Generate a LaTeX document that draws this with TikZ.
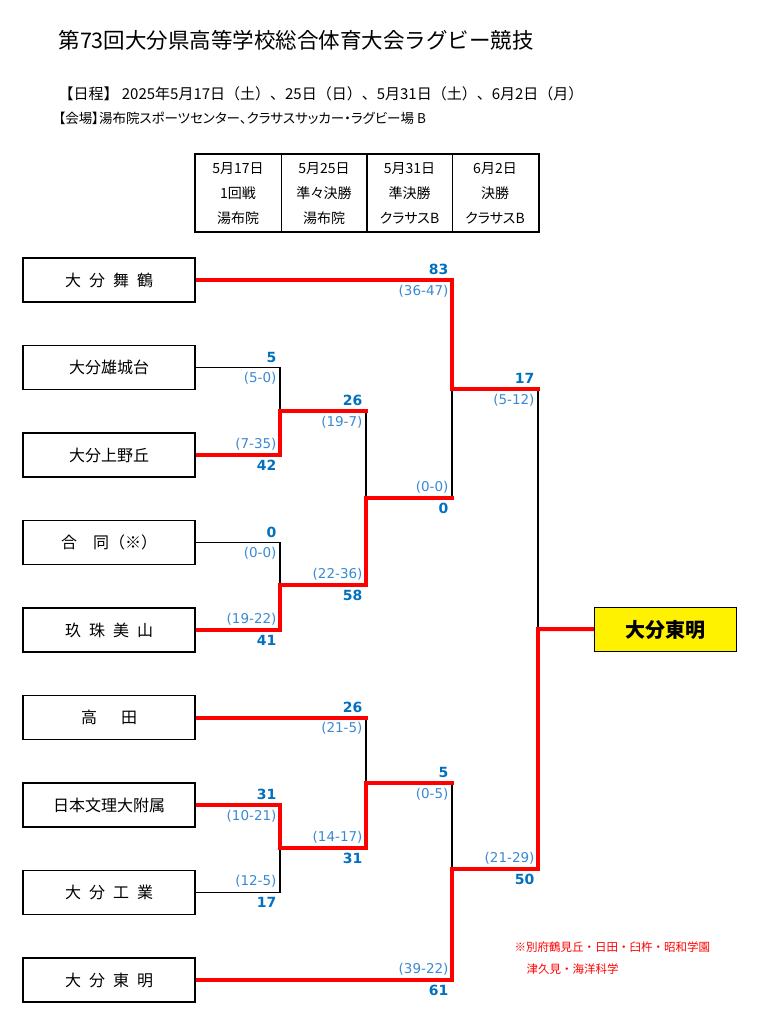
\documentclass[tikz,border=0pt]{standalone}
\usepackage{fontspec}
\setmainfont{Noto Sans CJK JP}
\newfontfamily\narrowfont{Noto Sans CJK JP}[RawFeature=+palt]
\newfontfamily\scorefont{DejaVu Sans}
\usepackage{tikz}
\usetikzlibrary{backgrounds}
\definecolor{scoreblue}{HTML}{0070C0}
\definecolor{parenblue}{HTML}{3A89D2}
\tikzstyle{team} = [rectangle, draw, line width=1.6pt, fill=white,
                 minimum width=172pt, minimum height=44pt, font=\fontsize{16}{16}\selectfont]
\tikzstyle{champ} = [rectangle, draw, line width=1.6pt, fill=yellow,
                 minimum width=142pt, minimum height=44pt, font=\fontsize{20}{20}\selectfont\bfseries]
\tikzstyle{day} = [rectangle, draw, line width=1pt, minimum width=86pt, minimum height=77pt,
                 align=center, font=\narrowfont\fontsize{14}{25}\selectfont]
\tikzstyle{branch} = [line width=1.2pt, draw]
\tikzstyle{win} = [line width=4pt, draw=red, line cap=rect]
\tikzstyle{bscore} = [text=scoreblue, inner ysep=5pt, font=\scorefont\bfseries\fontsize{14}{14}\selectfont]
\tikzstyle{pscore} = [text=parenblue, inner ysep=5pt, font=\scorefont\fontsize{13.5}{13.5}\selectfont]
\tikzstyle{note} = [text=red, anchor=west, font=\fontsize{11.5}{11.5}\selectfont]
\newcommand\tgap{\hspace{0.5em}}

\begin{document}
\begin{tikzpicture}[x=1pt, y=-1pt]
\useasboundingbox (0,0) rectangle (758,1024);

\node [anchor=west, font=\fontsize{21.5}{21.5}\selectfont] (title) at (55,40) {第73回大分県高等学校総合体育大会ラグビー競技};
\node [anchor=west, font=\fontsize{15}{15}\selectfont] (dates) at (55,94) {【日程】 2025年5月17日（土）、25日（日）、5月31日（土）、6月2日（月）};
\node [anchor=west, font=\narrowfont\fontsize{13.5}{13.5}\selectfont] (venue) at (55,118) {【会場】湯布院スポーツセンター、クラサスサッカー・ラグビー場 B};

	%days
\foreach \x/\date/\round/\place [count=\i] in {238/5月17日/1回戦/湯布院, 324/5月25日/準々決勝/湯布院, 409.5/5月31日/準決勝/クラサスB, 495/6月2日/決勝/クラサスB}
	\node [day] (d\i) at (\x,193.5) {\date\\\round\\\place};
\draw [line width=2pt] (d1.north west) rectangle (d4.south east);

	%teams
\foreach \i/\name in {1/大\tgap 分\tgap 舞\tgap 鶴, 2/大分雄城台, 3/大分上野丘, 4/合\hspace{1em}同（※）, 5/玖\tgap 珠\tgap 美\tgap 山, 6/高\hspace{1.5em}田, 7/日本文理大附属, 8/大\tgap 分\tgap 工\tgap 業, 9/大\tgap 分\tgap 東\tgap 明}
	\node [team] (t\i) at (109,{280+87.5*(\i-1)}) {\name};

\node [champ] (champ) at (665.5,629.5) {大分東明};

\coordinate (r1a) at (280,411);
\coordinate (r1b) at (280,585);
\coordinate (r1c) at (280,848);
\coordinate (qf1) at (366,498);
\coordinate (qf2) at (366,783);
\coordinate (sf1) at (452,389);
\coordinate (sf2) at (452,869);
\coordinate (fin) at (538,629);

\begin{scope}[on background layer]
\foreach \a/\b in {t2/r1a, t3/r1a, t4/r1b, t5/r1b, t7/r1c, t8/r1c, r1a/qf1, r1b/qf1, t6/qf2, r1c/qf2, t1/sf1, qf1/sf1, qf2/sf2, t9/sf2, sf1/fin, sf2/fin}
	\path [branch] (\a) -| (\b);
	%winners
\foreach \a/\b in {t3/r1a, t5/r1b, t7/r1c, r1b/qf1, r1c/qf2, t1/sf1, t9/sf2, sf2/fin}
	\path [win] (\a) -| (\b);
\foreach \a/\b in {r1a/qf1, t6/qf2, qf1/sf1, qf2/sf2, sf1/fin}
	\path [win] (\a) -- (\a -| \b);
\path [win] (fin) -- (champ);
\end{scope}

	%scores
\foreach \a/\b/\s/\p in {t2/r1a/5/5-0, t4/r1b/0/0-0, t7/r1c/31/10-21, r1a/qf1/26/19-7, t6/qf2/26/21-5, t1/sf1/83/36-47, qf2/sf2/5/0-5, sf1/fin/17/5-12}
	\path (\a -| \b) node [bscore, above left] (s-\a) {\s} node [pscore, below left] (p-\a) {(\p)};
\foreach \a/\b/\s/\p in {t3/r1a/42/7-35, t5/r1b/41/19-22, t8/r1c/17/12-5, r1b/qf1/58/22-36, r1c/qf2/31/14-17, qf1/sf1/0/0-0, t9/sf2/61/39-22, sf2/fin/50/21-29}
	\path (\a -| \b) node [pscore, above left] (p-\a) {(\p)} node [bscore, below left] (s-\a) {\s};

\node [note] (note1) at (511,947) {※別府鶴見丘・日田・臼杵・昭和学園};
\node [note] (note2) at (523,969) {津久見・海洋科学};

\end{tikzpicture}
\end{document}
